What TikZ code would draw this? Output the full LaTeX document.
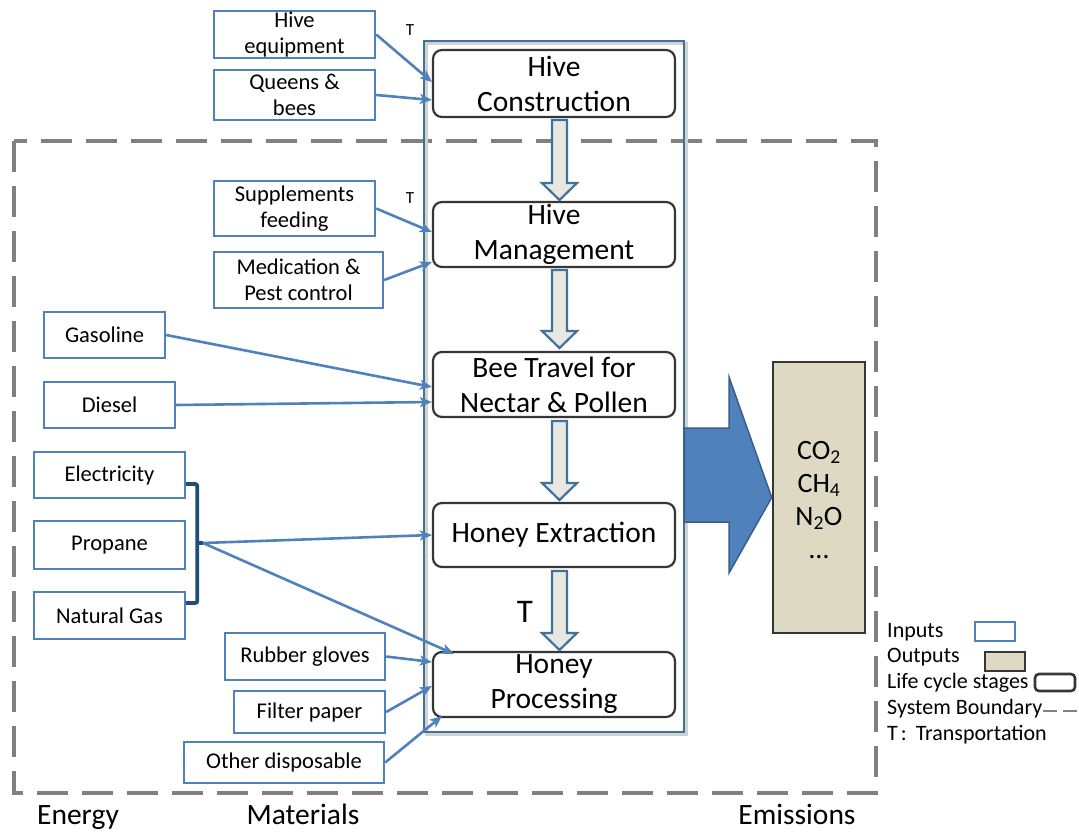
\documentclass[tikz,border=0pt]{standalone}
\usepackage{fontspec}
\setmainfont{Carlito}
\usetikzlibrary{arrows.meta,calc}
\definecolor{inblue}{HTML}{4F81BD}
\definecolor{frameblue}{HTML}{41719C}
\definecolor{stagegray}{HTML}{363636}
\definecolor{emtan}{HTML}{DDD9C3}
\definecolor{bracketblue}{HTML}{1F4E79}
\definecolor{arrowfill}{HTML}{E8E8E0}
\definecolor{bigedge}{HTML}{385D8A}
\definecolor{boundgray}{HTML}{808080}

% hollow block arrow between two stages (x of its axis is fixed)
\newcommand\stagearrow[2]{%
  \draw[frameblue, line width=2.2pt, fill=arrowfill, line join=miter]
    (552,#1) -- (567,#1) -- (567,#2-17) -- (577,#2-17) -- (559.5,#2)
    -- (542,#2-17) -- (552,#2-17) -- cycle;}

\begin{document}
\begin{tikzpicture}[x=1pt,y=-1pt,
  inbox/.style={draw=inblue, line width=2.4pt, fill=white, inner sep=0pt,
    align=center, font=\fontsize{22.5}{26}\selectfont},
  stage/.style={draw=stagegray, line width=2.2pt, rounded corners=9pt, fill=white,
    minimum width=242pt, inner sep=0pt, align=center,
    font=\fontsize{29.5}{35}\selectfont},
  feed/.style={draw=inblue, line width=2.6pt, -{Stealth[length=12pt,width=10pt,inset=3pt]}},
  legend/.style={anchor=west, inner sep=0pt, font=\fontsize{22}{24}\selectfont},
  caption/.style={inner sep=0pt, anchor=base, font=\fontsize{29.5}{34}\selectfont},
  tlabel/.style={inner sep=0pt, font=\fontsize{17}{18}\selectfont}
]
\useasboundingbox (0,0) rectangle (1079,832);
\fill[white] (0,0) rectangle (1079,832);

% system boundary
\draw[boundgray, line width=4pt, dash pattern=on 31pt off 14pt]
  (14,141) rectangle (876,793);

% container of the life cycle stages
\draw[gray!35, line width=2.5pt] (426.5,43.5) rectangle (686.5,734.5);
\draw[frameblue, line width=2.6pt] (424,41) rectangle (684,732);

% life cycle stages
\node[stage, minimum height=67pt] (hc) at (554,83.5) {Hive\\Construction};
\node[stage, minimum height=65pt] (hm) at (554,234.5) {Hive\\Management};
\node[stage, minimum height=65pt] (bt) at (554,384.5) {Bee Travel for\\Nectar \& Pollen};
\node[stage, minimum height=64pt] (hx) at (554,535) {Honey Extraction};
\node[stage, minimum height=65pt] (hp) at (554,684.5) {Honey\\Processing};

\stagearrow{120}{200}
\stagearrow{270}{348}
\stagearrow{421}{500}
\stagearrow{571}{650}
\node[inner sep=0pt, font=\fontsize{33}{36}\selectfont] (tbig) at (525,612) {T};

% inputs
\node[inbox, minimum width=161pt, minimum height=47pt] (he)  at (294.5,34.5) {Hive\\equipment};
\node[inbox, minimum width=161pt, minimum height=50pt] (qb)  at (294.5,95) {Queens \&\\bees};
\node[inbox, minimum width=161pt, minimum height=55pt] (sf)  at (294.5,208.5) {Supplements\\feeding};
\node[inbox, minimum width=169pt, minimum height=56pt] (mp)  at (298.5,280) {Medication \&\\Pest control};
\node[inbox, minimum width=121pt, minimum height=46pt] (gas) at (104.5,335) {Gasoline};
\node[inbox, minimum width=131pt, minimum height=46pt] (die) at (109.5,405) {Diesel};
\node[inbox, minimum width=151pt, minimum height=46pt] (ele) at (109.5,475) {Electricity};
\node[inbox, minimum width=151pt, minimum height=48pt] (pro) at (109.5,545) {Propane};
\node[inbox, minimum width=151pt, minimum height=47pt] (ng)  at (109.5,615.5) {Natural Gas};
\node[inbox, minimum width=160pt, minimum height=47pt] (rg)  at (305,656.5) {Rubber gloves};
\node[inbox, minimum width=151pt, minimum height=42pt] (fp)  at (309.5,712) {Filter paper};
\node[inbox, minimum width=200pt, minimum height=41pt] (od)  at (284,762.5) {Other disposable};

\node[tlabel] (t1) at (410,30) {T};
\node[tlabel] (t2) at (410,198) {T};

% bracket grouping the energy carriers
\draw[bracketblue, line width=3.8pt, rounded corners=2pt]
  ($(ele.east)+(0,9)$) -- ++(11,0) |- ($(ng.east)+(0,-12.5)$);
\coordinate (br) at (203,543);
\draw[bracketblue, line width=3.8pt] (196,543) -- (br);

% input flows
\draw[feed] (he.east)  -- ($(hc.west)+(0,-1.5)$);
\draw[feed] (qb.east)  -- ($(hc.west)+(0,16.5)$);
\draw[feed] (sf.east)  -- ($(hm.west)+(0,-2.5)$);
\draw[feed] (mp.east)  -- ($(hm.west)+(0,27.5)$);
\draw[feed] (gas.east) -- ($(bt.west)+(0,2.5)$);
\draw[feed] (die.east) -- ($(bt.west)+(0,17.5)$);
\draw[feed] (br) -- (hx.west);
\draw[feed] (br) -- ($(hp.north west)+(22,3)$);
\draw[feed] (rg.east)  -- ($(hp.west)+(0,-22.5)$);
\draw[feed] (fp.east)  -- ($(hp.west)+(0,1.5)$);
\draw[feed] (od.east)  -- ($(hp.south west)+(10,-2)$);

% emissions
\node[draw=stagegray, line width=2.6pt, fill=emtan, minimum width=92pt,
  minimum height=271pt, inner sep=0pt] (em) at (819,497.5) {};
\node[inner sep=0pt, align=center, font=\fontsize{28}{33}\selectfont] (emt)
  at (819,500) {CO\textsubscript{2}\\CH\textsubscript{4}\\N\textsubscript{2}O\\\ldots};
\draw[bigedge, line width=1.5pt, fill=inblue, line join=miter]
  (684,428) -- (729,428) -- (729,377) -- (em.west) -- (729,573) -- (729,522)
  -- (684,522) -- cycle;

% captions
\node[caption] (cE) at (78,824) {Energy};
\node[caption] (cM) at (303,824) {Materials};
\node[caption] (cX) at (797,824) {Emissions};

% legend
\node[legend] (l1) at (887,632) {Inputs};
\draw[inblue, line width=2.2pt] (975,622) rectangle (1015,641);
\node[legend] (l2) at (887,657) {Outputs};
\draw[stagegray, line width=2.6pt, fill=emtan] (985,652) rectangle (1025,671);
\node[legend] (l3) at (887,683) {Life cycle stages};
\draw[stagegray, line width=2.6pt, rounded corners=4pt] (1035,674) rectangle (1075,691);
\node[legend] (l4) at (887,709) {System Boundary};
\draw[boundgray, line width=1.5pt, dash pattern=on 14pt off 6pt] (1043,711) -- (1079,711);
\node[legend] (l5) at (887,735) {T\hspace{3pt}:\hspace{9pt}Transportation};
\end{tikzpicture}
\end{document}
